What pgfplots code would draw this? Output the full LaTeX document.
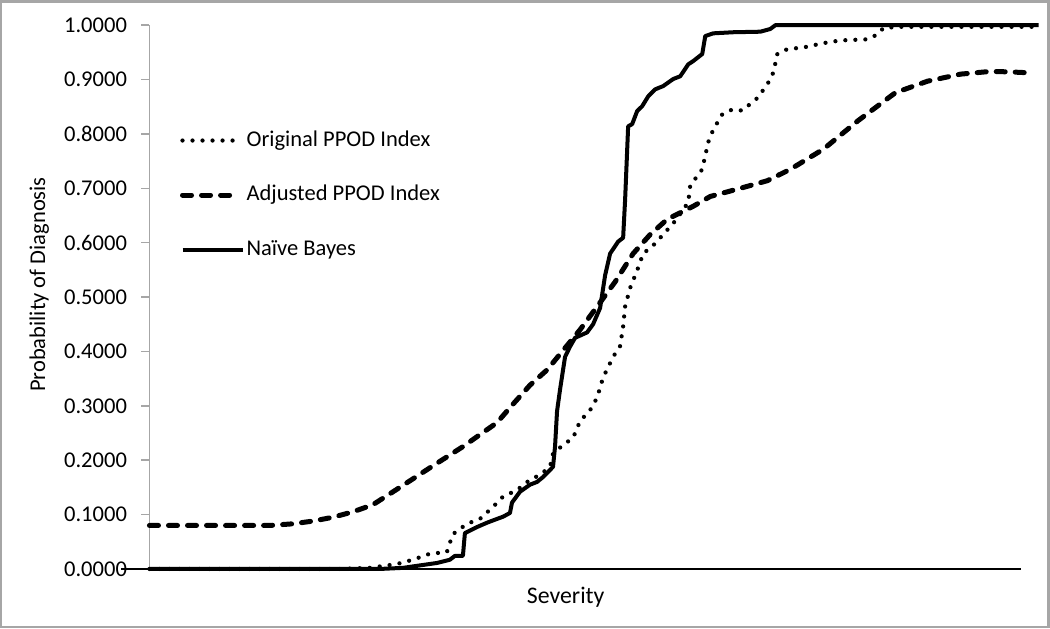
\documentclass[border=0pt]{standalone}
\usepackage{fontspec}
\setmainfont{Carlito}
\usepackage{pgfplots}
\pgfplotsset{compat=1.18}
\pgfplotsset{longleg/.style={legend image code/.code={\draw[##1] (0pt,0pt) -- (24pt,0pt);}}}

% x values are positions along the severity scale (arbitrary units, no ticks)
\pgfplotstableread{
x v
150 0.000
340 0.000
370 0.002
397 0.009
413 0.017
430 0.028
447 0.031
450 0.048
453 0.064
467 0.083
480 0.092
493 0.114
503 0.133
517 0.145
530 0.164
540 0.173
550 0.188
553 0.212
563 0.228
573 0.241
580 0.272
590 0.292
597 0.315
603 0.352
613 0.390
620 0.410
623 0.446
625 0.483
630 0.517
637 0.549
643 0.580
653 0.595
663 0.615
675 0.640
688 0.674
690 0.705
702 0.735
708 0.785
713 0.808
722 0.836
732 0.845
742 0.843
757 0.866
767 0.891
773 0.913
777 0.947
787 0.956
803 0.959
823 0.967
840 0.972
867 0.974
877 0.983
883 0.995
900 0.997
1038 0.997
}\original

\pgfplotstableread{
x v
150 0.080
270 0.080
293 0.083
313 0.088
333 0.095
353 0.105
373 0.118
400 0.150
430 0.186
463 0.225
497 0.269
513 0.303
530 0.338
547 0.366
580 0.440
600 0.490
615 0.528
633 0.580
650 0.615
667 0.643
693 0.667
710 0.685
740 0.700
767 0.714
790 0.735
823 0.772
858 0.825
895 0.876
927 0.897
960 0.910
990 0.915
1010 0.914
1033 0.912
}\adjusted

\pgfplotstableread{
x v
150 0.000
380 0.000
403 0.002
437 0.011
450 0.017
455 0.024
463 0.024
465 0.066
477 0.077
487 0.085
497 0.092
503 0.096
510 0.103
512 0.122
520 0.142
530 0.155
537 0.160
543 0.169
550 0.182
553 0.188
555 0.225
557 0.290
560 0.330
565 0.390
570 0.409
575 0.425
587 0.435
593 0.450
600 0.480
605 0.540
610 0.580
618 0.602
623 0.609
625 0.680
628 0.814
632 0.818
637 0.842
642 0.851
648 0.869
655 0.882
663 0.888
673 0.901
680 0.906
688 0.928
693 0.934
702 0.947
705 0.980
713 0.985
733 0.987
760 0.988
770 0.993
775 1.000
1038 1.000
}\naive

\begin{document}
\begin{tikzpicture}
\begin{axis}[
    scale only axis,
    width=356pt, height=217.2pt,
    xmin=150, xmax=1040, ymin=0, ymax=1,
    clip=false,
    axis lines*=left,
    x axis line style={draw=none},
    y axis line style={draw=gray!70, line width=0.6pt},
    xtick=\empty,
    ytick={0,0.1,0.2,0.3,0.4,0.5,0.6,0.7,0.8,0.9,1},
    tick align=outside,
    major tick length=3.2pt,
    ytick style={draw=gray!70, line width=0.6pt},
    yticklabel style={/pgf/number format/fixed, /pgf/number format/fixed zerofill,
        /pgf/number format/precision=4, /pgf/number format/assume math mode=true,
        inner sep=0pt, anchor=east, xshift=-5.6pt},
    font=\fontsize{9}{11}\selectfont,
    xlabel={Severity},
    ylabel={Probability of Diagnosis},
    every axis x label/.style={at={(axis description cs:0.467,-0.052)}, anchor=center,
        font=\fontsize{9.5}{12}\selectfont},
    every axis y label/.style={at={(axis description cs:-0.1236,0.523)}, anchor=center, rotate=90},
    legend image code/.code={\draw[#1] (0pt,0pt) -- (21pt,0pt);},
    legend style={draw=none, fill=none, at={(axis cs:180,0.6875)}, anchor=west,
        inner sep=0pt, row sep=13.6pt,
        nodes={inner sep=0pt, text height=6.3pt, text depth=1.9pt},
        font=\fontsize{9}{11}\selectfont},
    legend cell align=left,
]
\addplot[black, line width=1.7pt, line cap=round, dash pattern=on 0pt off 4pt] table[x=x, y=v] {\original};
\addlegendentry{\hspace{0.8pt}Original PPOD Index}
\addplot[black, line width=2pt, line cap=round, dash pattern=on 3.6pt off 4pt] table[x=x, y=v] {\adjusted};
\addlegendentry{\hspace{0.8pt}Adjusted PPOD Index}
\addplot[black, line width=1.6pt, line join=round, longleg] table[x=x, y=v] {\naive};
\addlegendentry{\hspace{0.8pt}Naïve Bayes}

% horizontal axis line (runs a little past the vertical axis, as in the source)
\draw[black, line width=0.9pt] (axis cs:122,0) -- (axis cs:1020,0);
% outer frame
\draw[gray!70, line width=1pt] (axis cs:2,1.044) rectangle (axis cs:1048,-0.107);
\end{axis}
\end{tikzpicture}
\end{document}
